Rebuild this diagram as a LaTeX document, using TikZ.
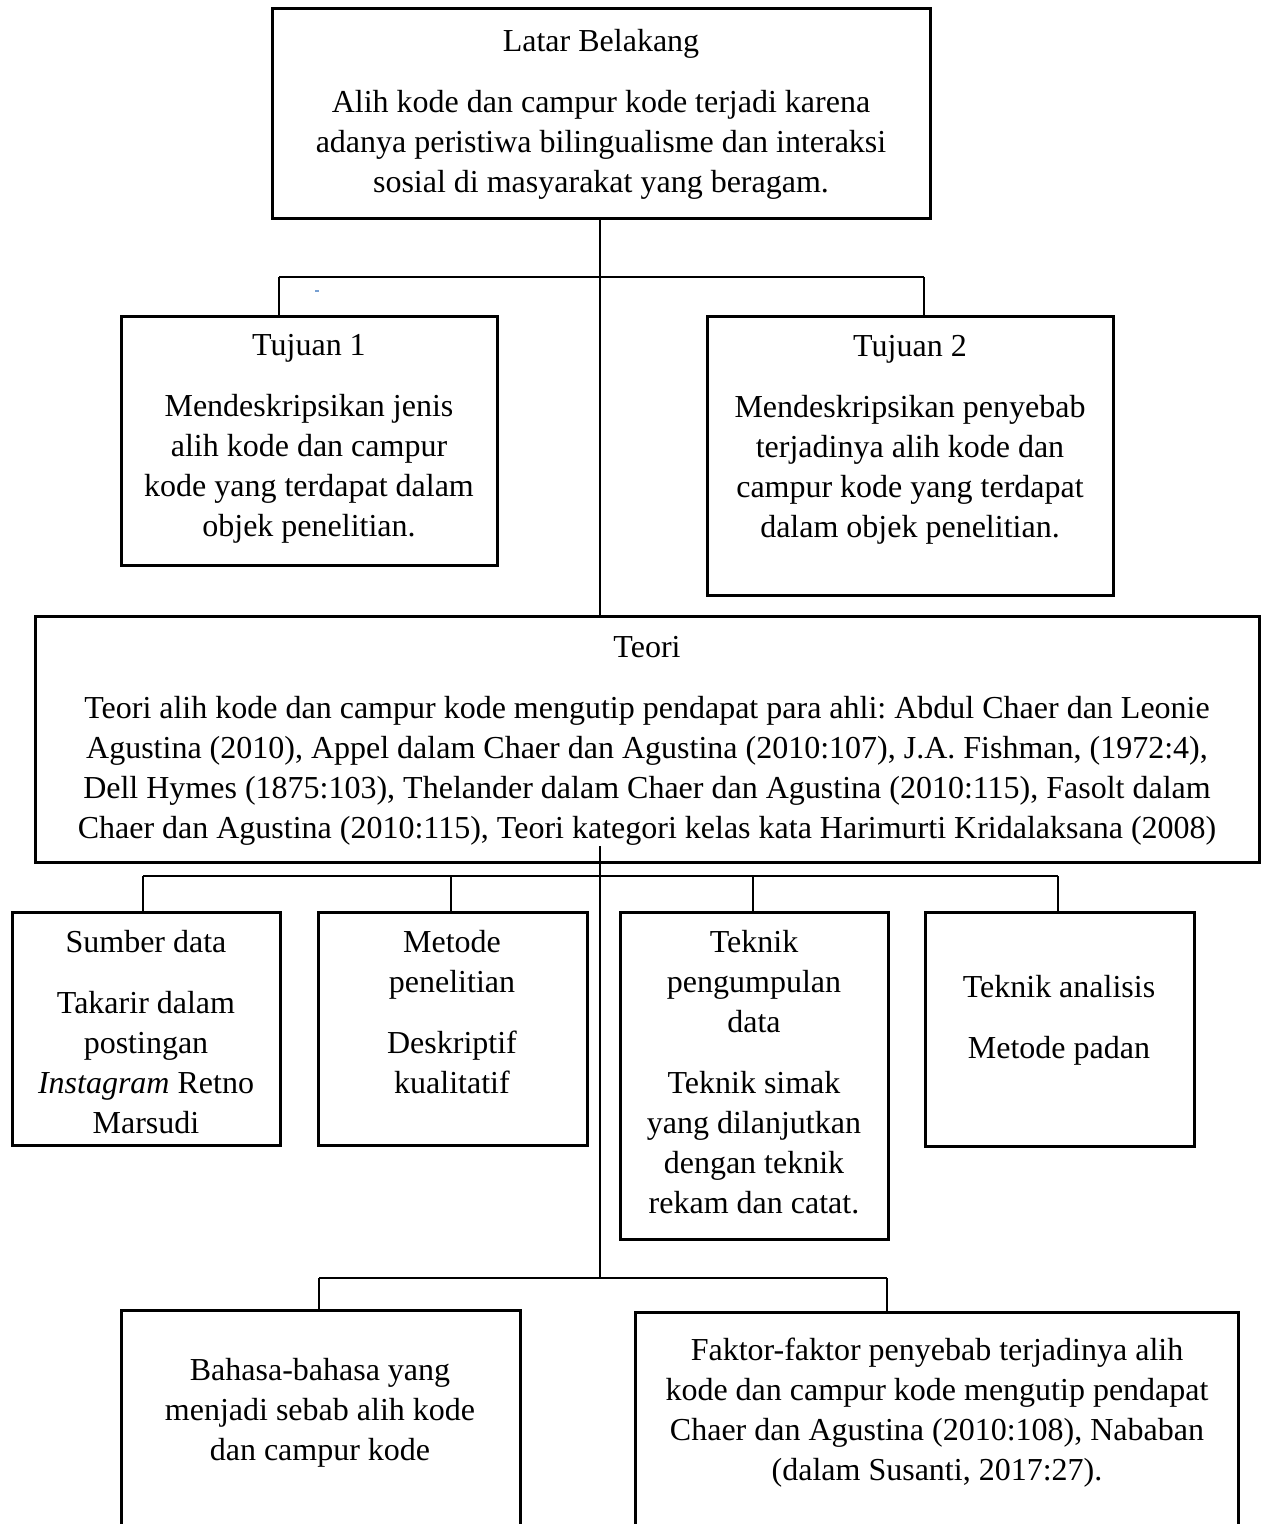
\documentclass[tikz,border=0pt]{standalone}
\usepackage{fontspec}
\setmainfont{Liberation Serif}
\usetikzlibrary{fit}
\frenchspacing
\begin{document}
\begin{tikzpicture}[x=1pt,y=-1pt,
  box/.style={draw=black, line width=3pt, rectangle, inner sep=0pt},
  txt/.style={inner sep=0pt, align=center, anchor=north, font=\fontsize{32}{40}\selectfont},
  conn/.style={draw=black, line width=1.2pt}]
\path[use as bounding box] (0,0) rectangle (1265,1524);
\clip (0,0) rectangle (1265,1524);
\fill[white] (0,0) rectangle (1265,1524);

% boxes
\node[box, fit={(272,8) (930,218)}] (latar) {};
\node[box, fit={(121,316) (497,565)}] (tuj1) {};
\node[box, fit={(707,316) (1113,595)}] (tuj2) {};
\node[box, fit={(35,616) (1259,862)}] (teori) {};
\node[box, fit={(12,912) (280,1145)}] (sumber) {};
\node[box, fit={(318,912) (587,1145)}] (metode) {};
\node[box, fit={(620,912) (888,1239)}] (tpeng) {};
\node[box, fit={(925,912) (1194,1146)}] (tanal) {};
\node[box, fit={(121,1310) (520,1560)}] (bahasa) {};
\node[box, fit={(635,1312) (1238,1560)}] (faktor) {};

% texts
\node[txt] (latarT) at (601,23) {\strut Latar Belakang\\[21pt]
  Alih kode dan campur kode terjadi karena\\
  adanya peristiwa bilingualisme dan interaksi\\
  sosial di masyarakat yang beragam.};
\node[txt] (tuj1T) at (309,327) {\strut Tujuan 1\\[21pt]
  Mendeskripsikan jenis\\ alih kode dan campur\\ kode yang terdapat dalam\\ objek penelitian.};
\node[txt] (tuj2T) at (910,328) {\strut Tujuan 2\\[21pt]
  Mendeskripsikan penyebab\\ terjadinya alih kode dan\\ campur kode yang terdapat\\ dalam objek penelitian.};
\node[txt] (teoriT) at (647,629) {\strut Teori\\[21pt]
  Teori alih kode dan campur kode mengutip pendapat para ahli: Abdul Chaer dan Leonie\\
  Agustina (2010), Appel dalam Chaer dan Agustina (2010:107), J.A. Fishman, (1972:4),\\
  Dell Hymes (1875:103), Thelander dalam Chaer dan Agustina (2010:115), Fasolt dalam\\
  Chaer dan Agustina (2010:115), Teori kategori kelas kata Harimurti Kridalaksana (2008)};
\node[txt] (sumberT) at (146,924) {\strut Sumber data\\[21pt]
  Takarir dalam\\ postingan\\ \textit{Instagram} Retno\\ Marsudi};
\node[txt] (metodeT) at (452,924) {\strut Metode\\ penelitian\\[21pt]
  Deskriptif\\ kualitatif};
\node[txt] (tpengT) at (754,924) {\strut Teknik\\ pengumpulan\\ data\\[21pt]
  Teknik simak\\ yang dilanjutkan\\ dengan teknik\\ rekam dan catat.};
\node[txt] (tanalT) at (1059,969) {\strut Teknik analisis\\[21pt] Metode padan};
\node[txt] (bahasaT) at (320,1352) {\strut Bahasa-bahasa yang\\ menjadi sebab alih kode\\ dan campur kode};
\node[txt] (faktorT) at (937,1332) {\strut Faktor-faktor penyebab terjadinya alih\\
  kode dan campur kode mengutip pendapat\\ Chaer dan Agustina (2010:108), Nababan\\ (dalam Susanti, 2017:27).};

% junction coordinates
\coordinate (jL) at (279,277);
\coordinate (jR) at (924,277);
\coordinate (k0) at (600,846);
\coordinate (kB) at (600,1278);
\coordinate (b1) at (143,876);
\coordinate (b2) at (451,876);
\coordinate (b3) at (753,876);
\coordinate (b4) at (1058,876);
\coordinate (m1) at (319,1278);
\coordinate (m2) at (887,1278);

% connectors
\draw[conn] (latar.south -| k0) -- (k0 |- teori.north);
\draw[conn] (jL) -- (jR);
\draw[conn] (jL) -- (jL |- tuj1.north);
\draw[conn] (jR) -- (jR |- tuj2.north);
\draw[conn] (k0) -- (kB);
\draw[conn] (b1) -- (b4);
\draw[conn] (b1) -- (b1 |- sumber.north);
\draw[conn] (b2) -- (b2 |- metode.north);
\draw[conn] (b3) -- (b3 |- tpeng.north);
\draw[conn] (b4) -- (b4 |- tanal.north);
\draw[conn] (m1) -- (m2);
\draw[conn] (m1) -- (m1 |- bahasa.north);
\draw[conn] (m2) -- (m2 |- faktor.north);

% small blue mark
\fill[color={rgb,255:red,120;green,160;blue,210}] (315,290) rectangle (319,292);
\end{tikzpicture}
\end{document}
